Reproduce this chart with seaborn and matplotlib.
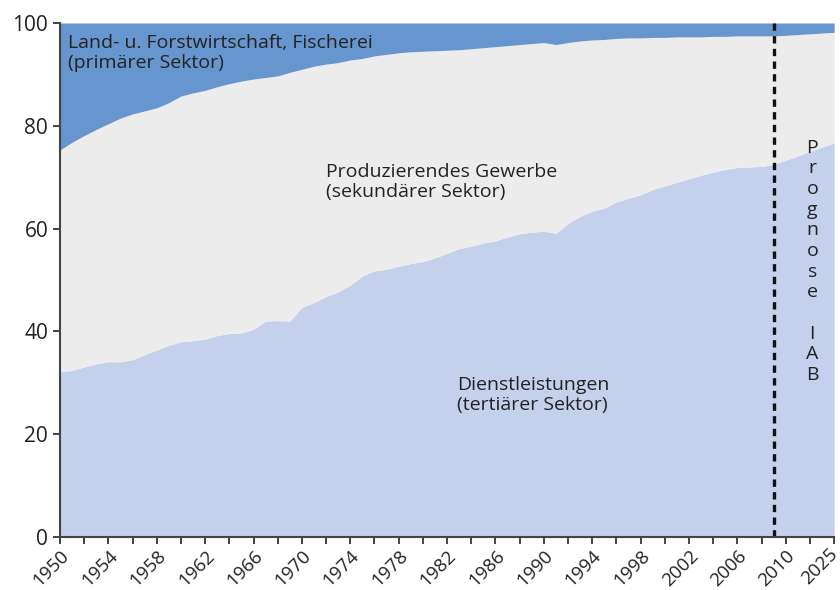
import numpy as np
import pandas as pd
import seaborn as sns
from matplotlib import pyplot as plt

# Anteile der Sektoren an den Erwerbstaetigen (%), 1950-2009, dazu Prognose 2010 und 2025
jahre = list(range(1950, 2010)) + [2010, 2025]

primaer = [24.7, 23.2, 21.9, 20.7, 19.6, 18.5, 17.7, 17.1, 16.5, 15.5,
           14.2, 13.6, 13.1, 12.4, 11.8, 11.3, 10.9, 10.6, 10.3, 9.6,
           9.0, 8.4, 8.0, 7.7, 7.2, 6.9, 6.4, 6.1, 5.8, 5.6,
           5.5, 5.4, 5.3, 5.2, 5.0, 4.8, 4.6, 4.4, 4.2, 4.0,
           3.8, 4.2, 3.8, 3.5, 3.3, 3.2, 3.0, 2.9, 2.9, 2.8,
           2.8, 2.7, 2.7, 2.7, 2.6, 2.6, 2.5, 2.5, 2.5, 2.5,
           2.4, 1.8]

sekundaer = [43.1, 44.4, 45.0, 45.6, 46.3, 47.4, 47.8, 47.4, 47.1, 47.2,
             47.8, 48.2, 48.4, 48.4, 48.6, 49.0, 48.7, 47.4, 47.6, 48.4,
             46.3, 46.0, 45.2, 44.6, 43.8, 42.3, 41.8, 41.8, 41.5, 41.2,
             40.9, 40.3, 39.5, 38.7, 38.4, 38.0, 37.8, 37.2, 36.8, 36.7,
             36.7, 36.7, 35.2, 34.1, 33.3, 32.8, 31.8, 31.2, 30.5, 29.6,
             28.9, 28.3, 27.6, 26.9, 26.4, 25.9, 25.6, 25.5, 25.4, 25.0,
             24.3, 21.5]

tertiaer = [32.2, 32.4, 33.1, 33.7, 34.1, 34.1, 34.5, 35.5, 36.4, 37.3,
            38.0, 38.2, 38.5, 39.2, 39.6, 39.7, 40.4, 42.0, 42.1, 42.0,
            44.7, 45.6, 46.8, 47.7, 49.0, 50.8, 51.8, 52.1, 52.7, 53.2,
            53.6, 54.3, 55.2, 56.1, 56.6, 57.2, 57.6, 58.4, 59.0, 59.3,
            59.5, 59.1, 61.0, 62.4, 63.4, 64.0, 65.2, 65.9, 66.6, 67.6,
            68.3, 69.0, 69.7, 70.4, 71.0, 71.5, 71.9, 72.0, 72.1, 72.5,
            73.3, 76.7]

tick_jahre = list(range(1950, 2011, 4)) + [2025]
prognose_ab = 2009

df = pd.DataFrame({"jahr": jahre, "primaer": primaer,
                   "sekundaer": sekundaer, "tertiaer": tertiaer})


def achse(j):
    # Achse ist nach 2010 gestaucht: 2010-2025 nimmt nur 4 Jahresbreiten ein
    j = np.asarray(j, dtype=float)
    return np.where(j <= 2010, j - 1950, 60 + (j - 2010) * 4 / 15)


df["x"] = achse(df["jahr"])

sns.set_style("ticks")
plt.rcParams["font.family"] = ["Open Sans", "DejaVu Sans"]

fig, ax = plt.subplots(figsize=(8.4, 5.9), dpi=100)
fig.subplots_adjust(left=0.0714, right=0.993, bottom=0.0898, top=0.961)

ax.stackplot(df["x"], df["tertiaer"], df["sekundaer"], df["primaer"],
             colors=["#c5d0ec", "#ececec", "#6696cd"], linewidth=0)

ax.axvline(achse(prognose_ab), color="#111111", linestyle=(0, (2.2, 1.6)), lw=2.4)

ax.set_xlim(0, 64)
ax.set_ylim(0, 100)
ax.set_yticks(range(0, 101, 20))
ax.set_xticks(np.arange(0, 65, 2), minor=True)
ax.set_xticks(achse(tick_jahre))
# letzte Beschriftung (2025) von Hand, etwas nach links gerueckt
beschriftung = [str(j) for j in tick_jahre]
beschriftung[-1] = ""
ax.set_xticklabels(beschriftung, rotation=45, ha="right", rotation_mode="anchor")
ax.tick_params(axis="both", which="both", colors="#222222",
               length=5, width=1.2, direction="out")
ax.tick_params(axis="y", labelsize=15)
ax.tick_params(axis="x", which="major", labelsize=13.5, pad=2)
ax.annotate(str(tick_jahre[-1]), xy=(achse(tick_jahre[-1]), 0),
            xycoords=("data", "axes fraction"), xytext=(-4, -5.5),
            textcoords="offset points", rotation=45, ha="right", va="top",
            rotation_mode="anchor", fontsize=13.5, color="#222222")
ax.set_xlabel("")
ax.set_ylabel("")
sns.despine(ax=ax)
for s in ["left", "bottom"]:
    ax.spines[s].set_color("#444444")
    ax.spines[s].set_linewidth(1.5)

txt = dict(fontsize=14, color="#222222", va="top", ha="left", linespacing=1.15)
ax.text(0.7, 97.8, "Land- u. Forstwirtschaft, Fischerei\n(primärer Sektor)", **txt)
ax.text(22, 72.8, "Produzierendes Gewerbe\n(sekundärer Sektor)", **txt)
ax.text(32.8, 31.3, "Dienstleistungen\n(tertiärer Sektor)", **txt)
ax.text(62.2, 77.5, "\n".join("Prognose IAB"), fontsize=14, color="#222222",
        va="top", ha="center", linespacing=1.19)

fig.savefig("out.png", dpi=100)
